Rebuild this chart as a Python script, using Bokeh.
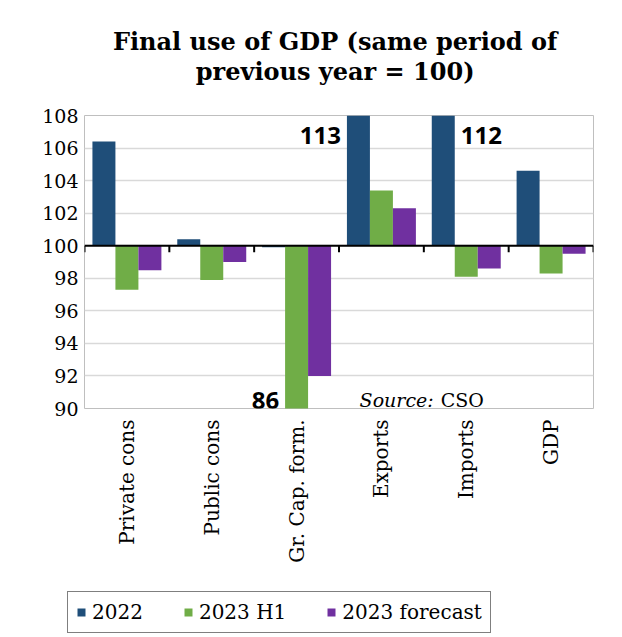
import math
from bokeh.plotting import figure
from bokeh.layouts import column
from bokeh.models import Range1d, FixedTicker, Span, Legend, LegendItem, ColumnDataSource
from bokeh.core.properties import value
from bokeh.embed import file_html
from bokeh.resources import INLINE

# ---- data ----
categories = ["Private cons", "Public cons", "Gr. Cap. form.", "Exports", "Imports", "GDP"]
series_names = ["2022", "2023 H1", "2023 forecast"]
v2022 = [106.4, 100.4, 99.9, 113.0, 112.0, 104.6]
v2023_h1 = [97.3, 97.9, 86.0, 103.4, 98.1, 98.3]
v2023_fc = [98.5, 99.0, 92.0, 102.3, 98.6, 99.5]
y_ticks = [90, 92, 94, 96, 98, 100, 102, 104, 106, 108]
base_value = 100
title_lines = ["Final use of GDP (same period of", "previous year = 100)"]
source_note = ("Source:", "CSO")

colors = ["#1F4E79", "#70AD47", "#7030A0"]
series = [v2022, v2023_h1, v2023_fc]

n = len(categories)
centers = [i + 0.5 for i in range(n)]
bar_w = 0.271
offsets = [-bar_w, 0.0, bar_w]
ymin, ymax = y_ticks[0], y_ticks[-1]

W = 614
HEAD_H = 100


def bare_figure(height):
    f = figure(width=W, height=height, output_backend="svg", toolbar_location=None,
               x_range=Range1d(0, W), y_range=Range1d(height, 0),
               x_axis_type=None, y_axis_type=None,
               min_border_left=0, min_border_right=0, min_border_top=0, min_border_bottom=0)
    f.grid.grid_line_color = None
    f.outline_line_color = None
    f.title.visible = False
    f.frame_align = False
    return f


# ---- title strip (pixel coordinates, y downwards) ----
head = bare_figure(HEAD_H)
head.text(x=[W * 0.545] * 2, y=[41, 71], text=title_lines, text_align="center",
          text_baseline="alphabetic", text_font=value("DejaVu Serif"),
          text_font_style="bold", text_font_size="24px", text_color="black")

# ---- main chart ----
p = figure(width=W, height=590 - HEAD_H, output_backend="svg", toolbar_location=None,
           x_range=Range1d(0, n), y_range=Range1d(ymin, ymax),
           min_border_left=84, min_border_right=21, min_border_top=115 - HEAD_H,
           min_border_bottom=182)
p.title.visible = False
p.frame_align = False

p.outline_line_color = "#bfbfbf"
p.outline_line_width = 1
p.background_fill_color = "white"
p.border_fill_color = "white"

p.xgrid.grid_line_color = None
p.ygrid.grid_line_color = "#d9d9d9"
p.ygrid.grid_line_width = 1.5
p.ygrid.ticker = FixedTicker(ticks=y_ticks)

p.yaxis.ticker = FixedTicker(ticks=y_ticks)
p.yaxis.axis_line_color = None
p.yaxis.major_tick_line_color = None
p.yaxis.minor_tick_line_color = None
p.yaxis.major_tick_out = 0
p.yaxis.major_label_standoff = 6
p.yaxis.major_label_text_font = "DejaVu Serif"
p.yaxis.major_label_text_font_size = "19px"
p.yaxis.major_label_text_color = "black"

p.xaxis.ticker = FixedTicker(ticks=centers)
p.xaxis.major_label_overrides = {c: name for c, name in zip(centers, categories)}
p.xaxis.major_label_orientation = math.pi / 2
p.xaxis.axis_line_color = None
p.xaxis.major_tick_line_color = None
p.xaxis.minor_tick_line_color = None
p.xaxis.major_label_standoff = 5
p.xaxis.major_label_text_font = "DejaVu Serif"
p.xaxis.major_label_text_font_size = "20px"
p.xaxis.major_label_text_color = "black"

for vals, off, col in zip(series, offsets, colors):
    src = ColumnDataSource(dict(x=[c + off for c in centers], top=vals,
                                bottom=[base_value] * n))
    p.vbar(x="x", top="top", bottom="bottom", width=bar_w, source=src,
           fill_color=col, line_color=None)

# 100 axis line and category boundary ticks
p.add_layout(Span(location=base_value, dimension="width", line_color="black", line_width=2))
bounds = list(range(n + 1))
p.segment(x0=bounds, x1=bounds, y0=[base_value] * (n + 1), y1=[base_value - 0.4] * (n + 1),
          line_color="black", line_width=2)

# labels for bars clipped by the axis range
lab_x, lab_y, lab_t, lab_a = [], [], [], []
gap = 0.07
for vals, off in zip(series, offsets):
    for ci, v in enumerate(vals):
        if v > ymax or v < ymin:
            bx = centers[ci] + off
            if categories[ci] == "Imports":
                lab_x.append(bx + bar_w / 2 + gap)
                lab_a.append("left")
            else:
                lab_x.append(bx - bar_w / 2 - gap)
                lab_a.append("right")
            lab_y.append(ymax - 1.2 if v > ymax else ymin + 0.5)
            lab_t.append(f"{v:.0f}")
p.text(x=lab_x, y=lab_y, text=lab_t, text_align=lab_a, text_baseline="middle",
       text_font=value("Open Sans"), text_font_style="bold", text_font_size="24px",
       text_color="black")

# source note
p.text(x=[3.243], y=[90.55], text=[source_note[0]], text_align="left",
       text_baseline="alphabetic", text_font=value("DejaVu Serif"),
       text_font_style="italic", text_font_size="19px", text_color="black")
p.text(x=[4.198], y=[90.55], text=[source_note[1]], text_align="left",
       text_baseline="alphabetic", text_font=value("DejaVu Serif"),
       text_font_size="19px", text_color="black")

# ---- legend strip ----
lg = bare_figure(44)
items = []
for name, col in zip(series_names, colors):
    # zero-size placeholder glyph far off-screen, only used to draw the legend swatch
    r = lg.vbar(x=[-10000], top=[0], bottom=[0], width=0, fill_color=col, line_color=None)
    items.append(LegendItem(label=name, renderers=[r]))
legend = Legend(items=items, orientation="horizontal", location=(67, 1),
                border_line_color="black", border_line_width=1,
                glyph_width=10, glyph_height=10, label_standoff=6, spacing=40, padding=8,
                label_text_font="DejaVu Serif", label_text_font_size="20px",
                label_text_color="black",
                background_fill_color="white", background_fill_alpha=1.0, margin=0)
lg.add_layout(legend)

layout = column(head, p, lg, spacing=0)
open("out.html", "w").write(file_html(layout, INLINE))
